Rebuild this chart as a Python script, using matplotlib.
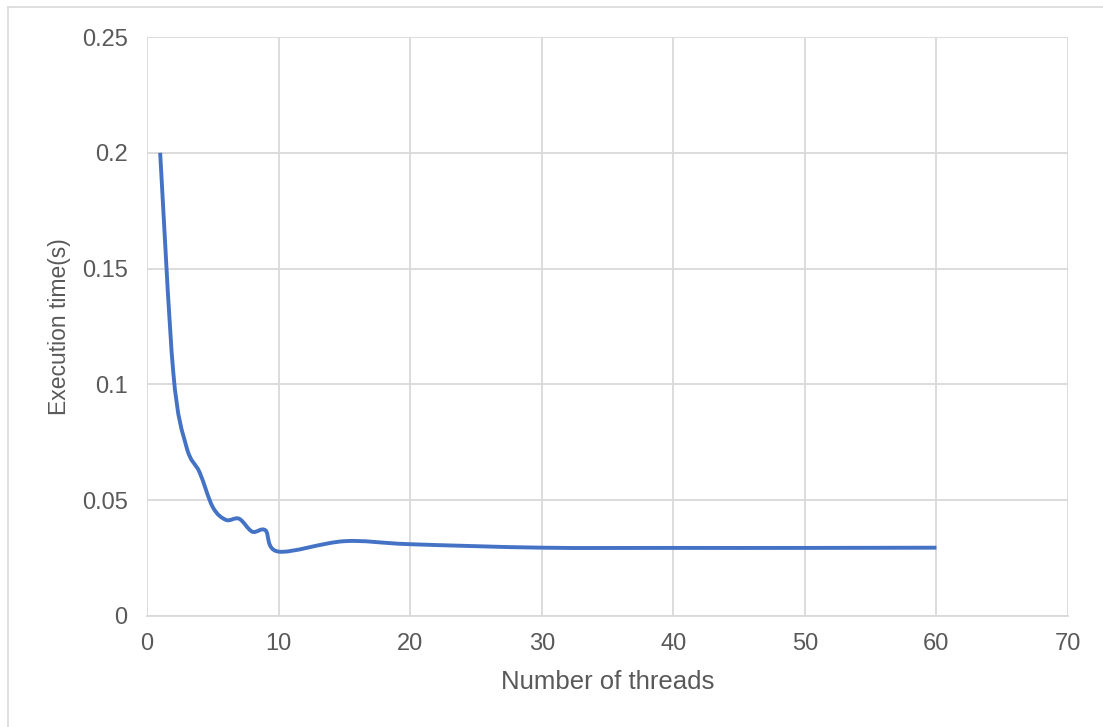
import numpy as np
import matplotlib.pyplot as plt
from matplotlib.path import Path
from matplotlib.patches import PathPatch
from matplotlib.ticker import FuncFormatter
from matplotlib.lines import Line2D

plt.rcParams['font.family'] = ['Liberation Sans', 'DejaVu Sans']

# -------- measured execution time vs. number of threads --------
threads = [1, 2, 3, 4, 5, 6, 7, 8, 9, 10, 15, 20, 30, 40, 50, 60]
exec_time = [0.2, 0.105, 0.073, 0.062, 0.047, 0.0415, 0.042, 0.0364, 0.037,
             0.0278, 0.0323, 0.031, 0.0295, 0.0294, 0.0294, 0.0295]

x_ticks = [0, 10, 20, 30, 40, 50, 60, 70]
y_ticks = [0, 0.05, 0.1, 0.15, 0.2, 0.25]

text_col = '#595959'
grid_col = '#d9d9d9'
line_col = '#4472c4'


def smooth_path(xs, ys):
    # spreadsheet-style smoothed line: cubic bezier through each point
    pts = np.column_stack([xs, ys]).astype(float)
    n = len(pts)
    verts = [pts[0]]
    codes = [Path.MOVETO]
    for i in range(n - 1):
        p0 = pts[i - 1] if i > 0 else pts[i]
        p1 = pts[i]
        p2 = pts[i + 1]
        p3 = pts[i + 2] if i + 2 < n else pts[i + 1]
        c1 = p1 + (p2 - p0) / 6.0
        c2 = p2 - (p3 - p1) / 6.0
        verts += [c1, c2, p2]
        codes += [Path.CURVE4] * 3
    return Path(verts, codes)


fig = plt.figure(figsize=(11.03, 7.27), dpi=100)
ax = fig.add_axes([147 / 1103, 1 - 616 / 727, (1068 - 147) / 1103, (616 - 37) / 727])

ax.add_patch(PathPatch(smooth_path(threads, exec_time), facecolor='none',
                       edgecolor=line_col, linewidth=2.8, capstyle='butt',
                       joinstyle='round', zorder=3))

ax.set_xlim(0, 70)
ax.set_ylim(0, 0.25)
ax.set_xticks(x_ticks)
ax.set_yticks(y_ticks)
ax.yaxis.set_major_formatter(FuncFormatter(lambda v, p: f'{v:g}'))
ax.grid(True, color=grid_col, linewidth=1.3)
ax.set_axisbelow(True)
for s in ax.spines.values():
    s.set_visible(False)
ax.spines['bottom'].set_visible(True)
ax.spines['bottom'].set_color(grid_col)
ax.spines['bottom'].set_linewidth(1.3)
ax.tick_params(length=0, labelsize=17, labelcolor=text_col)
ax.tick_params(axis='y', pad=14)
ax.tick_params(axis='x', pad=12)

ax.set_xlabel('Number of threads', fontsize=18.5, color=text_col, labelpad=11)
ax.set_ylabel('Execution time(s)', fontsize=16.5, color=text_col, labelpad=8)

# light chart-area border (top and left visible)
fig.add_artist(Line2D([8 / 1103, 1], [1 - 7 / 727, 1 - 7 / 727],
                      transform=fig.transFigure, color=grid_col, linewidth=1.2))
fig.add_artist(Line2D([8 / 1103, 8 / 1103], [0, 1 - 7 / 727],
                      transform=fig.transFigure, color=grid_col, linewidth=1.2))

fig.savefig('out.png', dpi=100, facecolor='white')
